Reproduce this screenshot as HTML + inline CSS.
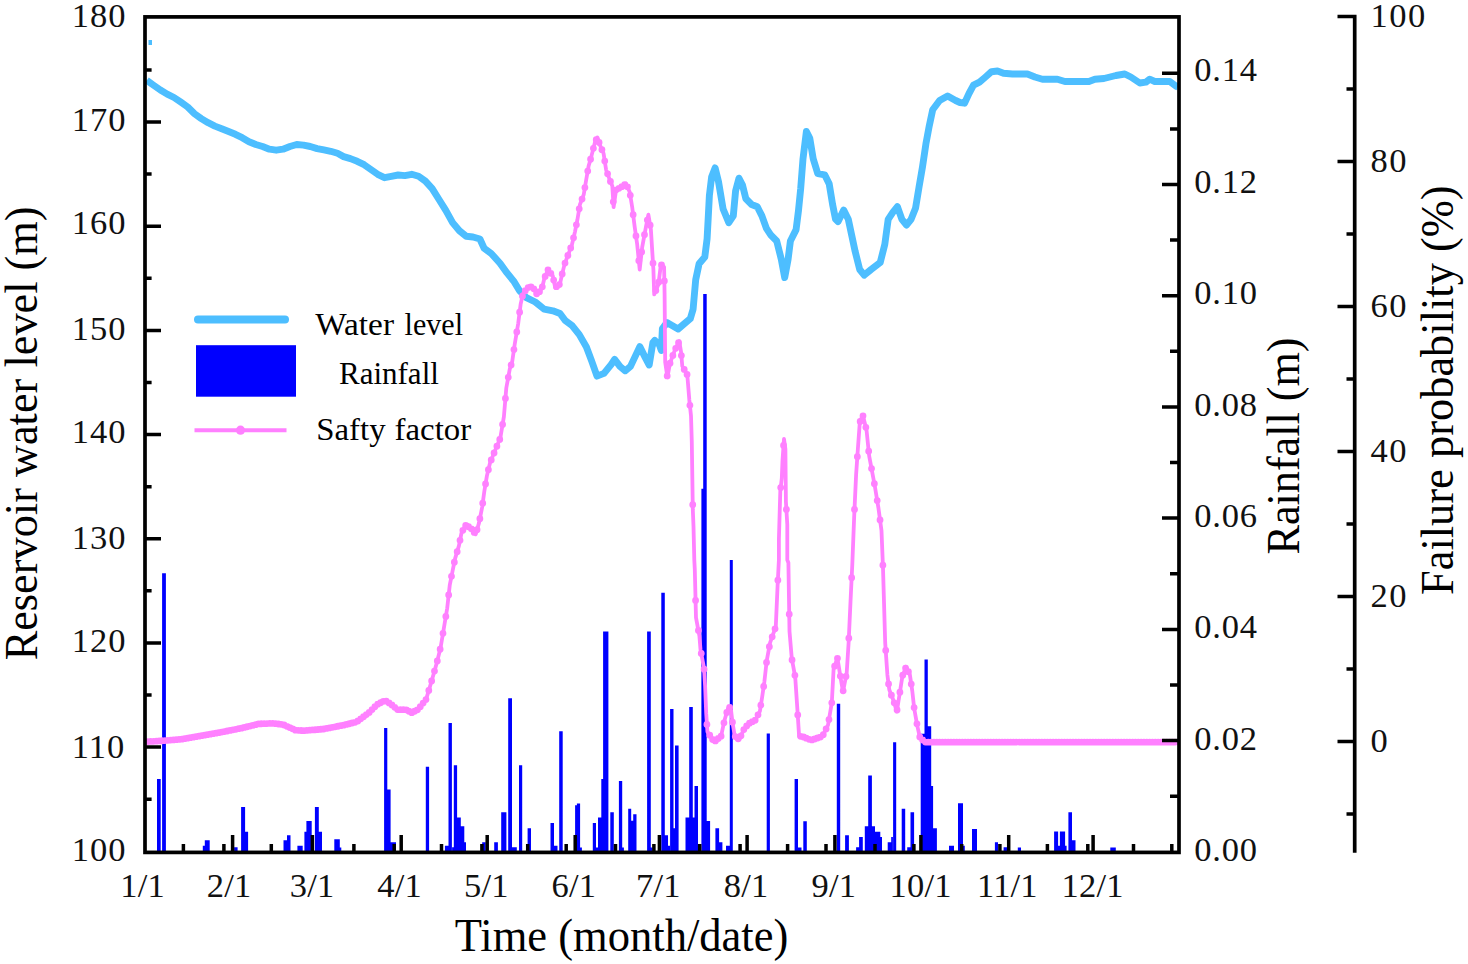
<!DOCTYPE html>
<html><head><meta charset="utf-8"><title>Chart</title>
<style>html,body{margin:0;padding:0;background:#fff;}svg{display:block;}</style></head>
<body><svg width="1468" height="964" viewBox="0 0 1468 964"><path d="M157.0 851.0H160.7V778.9H157.0ZM162.1 851.0H165.9V573.2H162.1ZM202.8 851.0H205.2V845.7H202.8ZM204.8 851.0H209.7V840.2H204.8ZM234.1 851.0H237.6V847.2H234.1ZM241.1 851.0H245.1V807.0H241.1ZM244.6 851.0H248.1V831.7H244.6ZM283.5 851.0H287.0V840.2H283.5ZM287.0 851.0H290.5V835.2H287.0ZM297.4 851.0H302.7V845.7H297.4ZM304.4 851.0H306.4V831.7H304.4ZM306.4 851.0H311.7V821.0H306.4ZM314.9 851.0H318.8V807.0H314.9ZM318.8 851.0H322.0V831.7H318.8ZM334.3 851.0H339.8V839.2H334.3ZM339.8 851.0H341.3V847.5H339.8ZM384.1 851.0H387.3V728.0H384.1ZM387.1 851.0H390.6V789.4H387.1ZM390.6 851.0H396.0V842.2H390.6ZM425.8 851.0H429.1V766.8H425.8ZM444.9 851.0H448.9V845.7H444.9ZM448.5 851.0H451.9V723.0H448.5ZM452.1 851.0H454.1V847.2H452.1ZM453.8 851.0H457.1V765.2H453.8ZM457.1 851.0H460.8V817.6H457.1ZM460.8 851.0H464.3V826.2H460.8ZM464.3 851.0H466.0V842.2H464.3ZM482.2 851.0H485.7V842.2H482.2ZM494.2 851.0H497.9V842.2H494.2ZM501.2 851.0H506.4V812.3H501.2ZM508.2 851.0H512.0V698.2H508.2ZM511.8 851.0H516.8V847.2H511.8ZM519.0 851.0H522.2V765.2H519.0ZM527.6 851.0H531.0V828.2H527.6ZM550.5 851.0H554.0V823.0H550.5ZM554.0 851.0H557.5V845.7H554.0ZM559.2 851.0H562.7V731.3H559.2ZM575.1 851.0H576.9V805.3H575.1ZM576.9 851.0H580.1V803.4H576.9ZM580.1 851.0H581.9V847.5H580.1ZM592.8 851.0H596.0V823.0H592.8ZM596.0 851.0H598.0V847.5H596.0ZM598.0 851.0H601.3V817.6H598.0ZM601.3 851.0H603.3V778.9H601.3ZM603.1 851.0H608.4V631.6H603.1ZM610.3 851.0H613.8V812.3H610.3ZM618.9 851.0H622.2V780.9H618.9ZM622.2 851.0H623.9V847.5H622.2ZM628.2 851.0H631.2V808.8H628.2ZM631.2 851.0H633.2V820.8H631.2ZM633.2 851.0H636.5V814.3H633.2ZM647.1 851.0H650.8V631.6H647.1ZM650.6 851.0H652.6V847.5H650.6ZM661.3 851.0H664.8V592.8H661.3ZM664.5 851.0H668.0V835.2H664.5ZM668.0 851.0H670.0V845.7H668.0ZM670.1 851.0H673.5V709.1H670.1ZM673.5 851.0H675.0V828.2H673.5ZM675.0 851.0H678.6V745.5H675.0ZM685.5 851.0H689.5V817.6H685.5ZM689.2 851.0H692.8V707.1H689.2ZM692.8 851.0H694.5V817.6H692.8ZM694.5 851.0H698.0V786.1H694.5ZM701.4 851.0H704.9V488.7H701.4ZM703.2 851.0H706.7V293.9H703.2ZM706.7 851.0H710.1V821.0H706.7ZM715.4 851.0H719.1V828.2H715.4ZM719.1 851.0H722.4V842.2H719.1ZM726.0 851.0H729.8V845.7H726.0ZM729.8 851.0H732.8V560.1H729.8ZM766.7 851.0H769.9V733.5H766.7ZM794.6 851.0H798.0V779.1H794.6ZM798.0 851.0H801.5V847.5H798.0ZM803.3 851.0H806.8V821.3H803.3ZM836.8 851.0H840.2V703.7H836.8ZM845.1 851.0H848.9V835.2H845.1ZM856.1 851.0H859.1V847.2H856.1ZM859.1 851.0H862.8V836.9H859.1ZM864.8 851.0H868.3V826.2H864.8ZM868.2 851.0H871.9V775.4H868.2ZM871.8 851.0H875.0V826.2H871.8ZM875.0 851.0H880.3V831.7H875.0ZM880.3 851.0H882.0V836.9H880.3ZM887.7 851.0H891.2V842.2H887.7ZM891.2 851.0H892.9V836.9H891.2ZM893.1 851.0H896.2V742.2H893.1ZM901.7 851.0H905.2V808.8H901.7ZM907.2 851.0H910.5V847.2H907.2ZM910.5 851.0H914.1V812.3H910.5ZM920.7 851.0H924.5V733.7H920.7ZM924.5 851.0H927.8V659.6H924.5ZM927.8 851.0H931.2V726.2H927.8ZM931.2 851.0H933.1V786.0H931.2ZM933.1 851.0H936.9V828.2H933.1ZM949.0 851.0H954.0V845.7H949.0ZM958.0 851.0H963.0V803.3H958.0ZM963.0 851.0H964.8V845.7H963.0ZM972.0 851.0H977.0V829.0H972.0ZM994.9 851.0H998.0V842.2H994.9ZM1003.6 851.0H1007.0V847.2H1003.6ZM1017.8 851.0H1021.0V847.6H1017.8ZM1054.1 851.0H1058.1V831.5H1054.1ZM1058.1 851.0H1059.9V845.7H1058.1ZM1059.9 851.0H1065.1V831.5H1059.9ZM1065.1 851.0H1066.6V845.7H1065.1ZM1068.4 851.0H1072.0V812.3H1068.4ZM1072.0 851.0H1075.5V840.2H1072.0ZM1110.3 851.0H1115.8V847.5H1110.3Z" fill="#0000ff"/><polyline points="146.8,80.4 153.6,85.2 160.4,90.0 167.2,94.1 174.0,97.5 180.9,102.2 187.7,107.0 194.5,113.8 201.3,118.6 208.1,122.7 214.9,126.1 221.7,128.8 228.6,131.5 235.4,134.3 242.2,137.7 249.0,141.7 255.8,144.5 262.6,146.5 269.4,149.2 276.2,150.2 283.0,149.2 289.9,146.5 296.7,144.5 303.5,145.1 310.3,146.5 317.1,148.6 323.9,149.9 330.7,151.3 337.5,153.3 343.6,156.6 350.4,158.6 357.2,161.3 364.1,164.7 370.9,169.5 377.7,174.3 384.5,177.7 391.3,176.3 398.1,175.0 404.9,175.6 411.7,174.3 418.6,176.3 425.4,181.1 432.2,188.6 439.0,199.5 445.8,210.4 452.6,222.6 459.4,230.8 466.2,236.3 473.0,237.0 479.9,239.0 484.1,248.2 491.2,253.5 500.0,263.2 507.0,272.9 514.1,281.7 519.4,290.5 526.4,297.6 535.3,302.0 544.1,309.1 552.9,310.8 560.0,313.5 565.2,320.5 572.3,325.8 579.3,334.6 586.4,347.0 591.7,361.1 597.0,376.1 604.0,373.4 611.1,364.6 614.6,359.3 619.9,366.4 625.2,370.8 630.5,366.4 639.8,346.6 645.4,357.9 649.2,365.0 652.9,342.5 654.8,340.4 659.4,344.9 661.3,350.5 662.4,328.5 666.9,322.6 678.1,329.0 690.3,318.7 693.1,309.3 695.7,279.8 699.1,263.8 704.8,257.0 707.1,238.7 708.2,218.2 709.4,195.3 711.6,177.1 715.1,167.9 718.5,181.6 723.1,209.0 728.8,222.7 733.3,215.9 735.6,190.8 739.0,178.2 742.5,185.1 745.9,198.8 751.6,204.5 757.3,206.8 761.9,215.9 766.4,228.4 771.0,235.3 776.7,241.0 781.3,259.3 784.7,277.5 788.1,259.3 790.4,241.0 796.1,229.6 798.4,211.3 800.7,188.5 803.0,158.8 806.4,131.4 809.8,138.3 813.2,158.8 817.8,173.7 824.7,174.8 829.2,183.9 832.6,204.5 835.5,219.0 838.0,221.6 843.7,210.1 848.3,219.3 851.7,235.3 855.1,251.2 859.7,269.5 864.2,275.2 871.1,269.5 880.2,262.6 884.8,244.4 888.2,219.3 892.8,212.4 897.4,206.7 901.9,219.3 906.5,225.0 911.1,219.3 915.6,207.9 919.0,187.3 922.5,166.8 925.9,143.9 929.3,125.7 932.7,109.7 939.6,100.5 947.6,96.0 955.6,100.5 960.0,102.5 964.5,103.2 969.0,93.5 973.5,85.2 979.5,82.2 985.5,77.0 991.5,71.7 997.5,71.0 1003.5,73.2 1012.5,74.0 1027.4,74.0 1034.9,77.0 1042.4,79.2 1057.4,79.2 1064.9,81.5 1088.9,81.5 1094.9,79.2 1103.9,78.5 1115.9,75.5 1124.8,74.0 1130.8,77.0 1139.8,83.0 1145.8,82.2 1149.6,79.2 1154.8,81.5 1169.8,81.5 1175.8,86.0 1178.0,87.0" fill="none" stroke="#4dbeff" stroke-width="6.9" stroke-linejoin="round" stroke-linecap="butt"/><rect x="148.5" y="40" width="3.5" height="5" fill="#4dbeff"/><polyline points="146.1,741.7 160.4,740.9 180.9,739.3 201.3,735.8 221.7,732.1 242.2,728.0 258.5,723.9 272.8,723.3 283.1,724.6 295.3,730.1 303.5,730.7 323.9,729.0 344.4,725.0 356.6,721.9 368.9,712.7 377.1,704.5 385.2,700.4 391.4,704.5 397.5,709.6 405.7,709.6 411.8,712.7 417.9,709.6 426.1,699.4 431.7,680.7 436.9,662.6 440.7,647.0 444.6,623.7 447.2,608.2 449.8,584.8 452.4,571.9 455.0,558.9 458.9,545.9 461.5,533.0 465.4,525.2 470.6,527.8 475.7,534.3 479.1,522.6 482.2,507.0 484.3,491.5 486.9,475.9 490.0,463.0 494.3,452.4 500.3,438.1 503.9,416.6 506.3,388.0 509.8,368.9 512.2,361.7 514.6,345.0 518.2,323.5 520.6,304.4 523.0,293.7 527.7,287.7 532.5,286.5 537.3,294.9 542.1,287.7 544.4,278.2 548.0,269.8 552.8,275.8 555.2,287.7 559.9,284.2 562.3,273.4 564.7,263.9 568.3,254.3 571.9,244.8 574.9,232.1 577.4,219.7 579.9,204.7 583.7,194.7 586.2,179.8 588.6,166.1 591.1,157.4 594.9,142.4 597.4,137.4 599.9,144.9 603.6,153.6 606.1,169.8 609.8,179.8 612.3,186.0 613.6,207.2 616.1,189.8 621.0,187.3 626.0,183.5 629.8,192.2 632.2,207.2 634.7,227.1 637.2,244.6 639.7,269.5 642.2,247.1 645.9,227.1 648.4,214.7 650.9,229.6 653.4,269.5 654.2,294.4 658.4,284.4 660.9,264.5 664.1,267.0 664.6,294.4 665.2,362.3 667.4,377.3 669.9,363.6 674.9,349.9 679.3,341.2 681.1,352.4 682.3,366.1 687.3,374.8 689.3,399.7 691.0,415.8 691.8,442.0 692.8,509.2 693.5,526.6 694.3,560.0 694.8,569.7 696.0,617.6 699.4,635.8 700.5,649.5 704.0,667.8 705.1,686.0 706.2,713.4 707.4,731.6 714.2,741.9 721.1,736.2 724.5,720.2 727.9,708.8 730.6,706.5 732.5,722.5 734.8,736.2 739.3,739.6 743.9,729.4 748.4,723.7 755.3,720.2 759.9,711.1 762.1,697.4 764.4,681.5 766.7,660.9 770.1,642.7 775.8,626.7 777.6,585.6 778.9,560.0 778.9,539.1 780.3,491.2 781.8,478.1 782.5,460.7 784.0,438.9 785.4,449.1 785.9,501.4 787.3,524.6 787.3,560.0 788.4,562.8 789.5,631.3 791.8,658.6 795.2,676.9 797.5,711.1 799.1,736.2 801.9,736.4 811.2,740.2 822.4,736.4 828.0,725.2 831.8,702.8 833.6,669.2 837.4,657.9 840.4,676.6 843.0,691.6 846.7,672.9 848.6,643.0 850.5,601.9 852.3,564.5 854.2,515.9 856.1,474.8 857.9,448.6 859.8,422.4 862.8,415.0 866.5,429.9 869.2,456.1 874.8,486.0 878.5,508.4 881.5,530.8 883.0,568.2 885.2,643.0 887.4,674.9 889.3,689.8 893.7,701.0 896.8,711.6 899.9,692.3 902.4,676.1 906.1,666.8 909.9,674.9 912.3,691.1 914.2,708.5 917.3,725.9 919.8,737.1 924.8,742.1 1178.0,742.1" fill="none" stroke="#ff80ff" stroke-width="3.8" stroke-linejoin="round"/><path d="M144.44 741.60a3.4 3.4 0 1 0 6.8 0a3.4 3.4 0 1 0 -6.8 0zM147.28 741.44a3.4 3.4 0 1 0 6.8 0a3.4 3.4 0 1 0 -6.8 0zM150.11 741.29a3.4 3.4 0 1 0 6.8 0a3.4 3.4 0 1 0 -6.8 0zM152.95 741.13a3.4 3.4 0 1 0 6.8 0a3.4 3.4 0 1 0 -6.8 0zM155.79 740.97a3.4 3.4 0 1 0 6.8 0a3.4 3.4 0 1 0 -6.8 0zM158.63 740.77a3.4 3.4 0 1 0 6.8 0a3.4 3.4 0 1 0 -6.8 0zM161.47 740.55a3.4 3.4 0 1 0 6.8 0a3.4 3.4 0 1 0 -6.8 0zM164.30 740.33a3.4 3.4 0 1 0 6.8 0a3.4 3.4 0 1 0 -6.8 0zM167.14 740.11a3.4 3.4 0 1 0 6.8 0a3.4 3.4 0 1 0 -6.8 0zM169.98 739.89a3.4 3.4 0 1 0 6.8 0a3.4 3.4 0 1 0 -6.8 0zM172.82 739.67a3.4 3.4 0 1 0 6.8 0a3.4 3.4 0 1 0 -6.8 0zM175.66 739.44a3.4 3.4 0 1 0 6.8 0a3.4 3.4 0 1 0 -6.8 0zM178.49 739.13a3.4 3.4 0 1 0 6.8 0a3.4 3.4 0 1 0 -6.8 0zM181.33 738.64a3.4 3.4 0 1 0 6.8 0a3.4 3.4 0 1 0 -6.8 0zM184.17 738.16a3.4 3.4 0 1 0 6.8 0a3.4 3.4 0 1 0 -6.8 0zM187.01 737.67a3.4 3.4 0 1 0 6.8 0a3.4 3.4 0 1 0 -6.8 0zM189.85 737.18a3.4 3.4 0 1 0 6.8 0a3.4 3.4 0 1 0 -6.8 0zM192.68 736.69a3.4 3.4 0 1 0 6.8 0a3.4 3.4 0 1 0 -6.8 0zM195.52 736.21a3.4 3.4 0 1 0 6.8 0a3.4 3.4 0 1 0 -6.8 0zM198.36 735.72a3.4 3.4 0 1 0 6.8 0a3.4 3.4 0 1 0 -6.8 0zM201.20 735.20a3.4 3.4 0 1 0 6.8 0a3.4 3.4 0 1 0 -6.8 0zM204.04 734.69a3.4 3.4 0 1 0 6.8 0a3.4 3.4 0 1 0 -6.8 0zM206.87 734.17a3.4 3.4 0 1 0 6.8 0a3.4 3.4 0 1 0 -6.8 0zM209.71 733.66a3.4 3.4 0 1 0 6.8 0a3.4 3.4 0 1 0 -6.8 0zM212.55 733.14a3.4 3.4 0 1 0 6.8 0a3.4 3.4 0 1 0 -6.8 0zM215.39 732.63a3.4 3.4 0 1 0 6.8 0a3.4 3.4 0 1 0 -6.8 0zM218.23 732.11a3.4 3.4 0 1 0 6.8 0a3.4 3.4 0 1 0 -6.8 0zM221.06 731.55a3.4 3.4 0 1 0 6.8 0a3.4 3.4 0 1 0 -6.8 0zM223.90 730.98a3.4 3.4 0 1 0 6.8 0a3.4 3.4 0 1 0 -6.8 0zM226.74 730.41a3.4 3.4 0 1 0 6.8 0a3.4 3.4 0 1 0 -6.8 0zM229.58 729.84a3.4 3.4 0 1 0 6.8 0a3.4 3.4 0 1 0 -6.8 0zM232.42 729.28a3.4 3.4 0 1 0 6.8 0a3.4 3.4 0 1 0 -6.8 0zM235.25 728.71a3.4 3.4 0 1 0 6.8 0a3.4 3.4 0 1 0 -6.8 0zM238.09 728.14a3.4 3.4 0 1 0 6.8 0a3.4 3.4 0 1 0 -6.8 0zM240.93 727.46a3.4 3.4 0 1 0 6.8 0a3.4 3.4 0 1 0 -6.8 0zM243.77 726.75a3.4 3.4 0 1 0 6.8 0a3.4 3.4 0 1 0 -6.8 0zM246.61 726.04a3.4 3.4 0 1 0 6.8 0a3.4 3.4 0 1 0 -6.8 0zM249.44 725.32a3.4 3.4 0 1 0 6.8 0a3.4 3.4 0 1 0 -6.8 0zM252.28 724.61a3.4 3.4 0 1 0 6.8 0a3.4 3.4 0 1 0 -6.8 0zM255.12 723.90a3.4 3.4 0 1 0 6.8 0a3.4 3.4 0 1 0 -6.8 0zM257.96 723.78a3.4 3.4 0 1 0 6.8 0a3.4 3.4 0 1 0 -6.8 0zM260.80 723.66a3.4 3.4 0 1 0 6.8 0a3.4 3.4 0 1 0 -6.8 0zM263.63 723.54a3.4 3.4 0 1 0 6.8 0a3.4 3.4 0 1 0 -6.8 0zM266.47 723.42a3.4 3.4 0 1 0 6.8 0a3.4 3.4 0 1 0 -6.8 0zM269.31 723.30a3.4 3.4 0 1 0 6.8 0a3.4 3.4 0 1 0 -6.8 0zM272.15 723.65a3.4 3.4 0 1 0 6.8 0a3.4 3.4 0 1 0 -6.8 0zM274.99 724.01a3.4 3.4 0 1 0 6.8 0a3.4 3.4 0 1 0 -6.8 0zM277.82 724.36a3.4 3.4 0 1 0 6.8 0a3.4 3.4 0 1 0 -6.8 0zM280.66 725.03a3.4 3.4 0 1 0 6.8 0a3.4 3.4 0 1 0 -6.8 0zM283.50 726.31a3.4 3.4 0 1 0 6.8 0a3.4 3.4 0 1 0 -6.8 0zM286.34 727.59a3.4 3.4 0 1 0 6.8 0a3.4 3.4 0 1 0 -6.8 0zM289.18 728.87a3.4 3.4 0 1 0 6.8 0a3.4 3.4 0 1 0 -6.8 0zM292.01 730.11a3.4 3.4 0 1 0 6.8 0a3.4 3.4 0 1 0 -6.8 0zM294.85 730.32a3.4 3.4 0 1 0 6.8 0a3.4 3.4 0 1 0 -6.8 0zM297.69 730.52a3.4 3.4 0 1 0 6.8 0a3.4 3.4 0 1 0 -6.8 0zM300.53 730.66a3.4 3.4 0 1 0 6.8 0a3.4 3.4 0 1 0 -6.8 0zM303.37 730.43a3.4 3.4 0 1 0 6.8 0a3.4 3.4 0 1 0 -6.8 0zM306.20 730.19a3.4 3.4 0 1 0 6.8 0a3.4 3.4 0 1 0 -6.8 0zM309.04 729.95a3.4 3.4 0 1 0 6.8 0a3.4 3.4 0 1 0 -6.8 0zM311.88 729.72a3.4 3.4 0 1 0 6.8 0a3.4 3.4 0 1 0 -6.8 0zM314.72 729.48a3.4 3.4 0 1 0 6.8 0a3.4 3.4 0 1 0 -6.8 0zM317.56 729.25a3.4 3.4 0 1 0 6.8 0a3.4 3.4 0 1 0 -6.8 0zM320.39 729.01a3.4 3.4 0 1 0 6.8 0a3.4 3.4 0 1 0 -6.8 0zM323.23 728.47a3.4 3.4 0 1 0 6.8 0a3.4 3.4 0 1 0 -6.8 0zM326.07 727.91a3.4 3.4 0 1 0 6.8 0a3.4 3.4 0 1 0 -6.8 0zM328.91 727.36a3.4 3.4 0 1 0 6.8 0a3.4 3.4 0 1 0 -6.8 0zM331.75 726.81a3.4 3.4 0 1 0 6.8 0a3.4 3.4 0 1 0 -6.8 0zM334.58 726.25a3.4 3.4 0 1 0 6.8 0a3.4 3.4 0 1 0 -6.8 0zM337.42 725.70a3.4 3.4 0 1 0 6.8 0a3.4 3.4 0 1 0 -6.8 0zM340.26 725.14a3.4 3.4 0 1 0 6.8 0a3.4 3.4 0 1 0 -6.8 0zM343.10 724.47a3.4 3.4 0 1 0 6.8 0a3.4 3.4 0 1 0 -6.8 0zM345.94 723.75a3.4 3.4 0 1 0 6.8 0a3.4 3.4 0 1 0 -6.8 0zM348.77 723.02a3.4 3.4 0 1 0 6.8 0a3.4 3.4 0 1 0 -6.8 0zM351.61 722.30a3.4 3.4 0 1 0 6.8 0a3.4 3.4 0 1 0 -6.8 0zM354.45 720.97a3.4 3.4 0 1 0 6.8 0a3.4 3.4 0 1 0 -6.8 0zM357.29 718.84a3.4 3.4 0 1 0 6.8 0a3.4 3.4 0 1 0 -6.8 0zM360.13 716.72a3.4 3.4 0 1 0 6.8 0a3.4 3.4 0 1 0 -6.8 0zM362.96 714.60a3.4 3.4 0 1 0 6.8 0a3.4 3.4 0 1 0 -6.8 0zM365.80 712.40a3.4 3.4 0 1 0 6.8 0a3.4 3.4 0 1 0 -6.8 0zM368.64 709.56a3.4 3.4 0 1 0 6.8 0a3.4 3.4 0 1 0 -6.8 0zM371.48 706.72a3.4 3.4 0 1 0 6.8 0a3.4 3.4 0 1 0 -6.8 0zM374.32 704.19a3.4 3.4 0 1 0 6.8 0a3.4 3.4 0 1 0 -6.8 0zM377.15 702.75a3.4 3.4 0 1 0 6.8 0a3.4 3.4 0 1 0 -6.8 0zM379.99 701.32a3.4 3.4 0 1 0 6.8 0a3.4 3.4 0 1 0 -6.8 0zM382.83 701.08a3.4 3.4 0 1 0 6.8 0a3.4 3.4 0 1 0 -6.8 0zM385.67 702.96a3.4 3.4 0 1 0 6.8 0a3.4 3.4 0 1 0 -6.8 0zM388.51 704.92a3.4 3.4 0 1 0 6.8 0a3.4 3.4 0 1 0 -6.8 0zM391.34 707.30a3.4 3.4 0 1 0 6.8 0a3.4 3.4 0 1 0 -6.8 0zM394.18 709.60a3.4 3.4 0 1 0 6.8 0a3.4 3.4 0 1 0 -6.8 0zM397.02 709.60a3.4 3.4 0 1 0 6.8 0a3.4 3.4 0 1 0 -6.8 0zM399.86 709.60a3.4 3.4 0 1 0 6.8 0a3.4 3.4 0 1 0 -6.8 0zM402.70 709.80a3.4 3.4 0 1 0 6.8 0a3.4 3.4 0 1 0 -6.8 0zM405.53 711.24a3.4 3.4 0 1 0 6.8 0a3.4 3.4 0 1 0 -6.8 0zM408.37 712.69a3.4 3.4 0 1 0 6.8 0a3.4 3.4 0 1 0 -6.8 0zM411.21 711.27a3.4 3.4 0 1 0 6.8 0a3.4 3.4 0 1 0 -6.8 0zM414.05 709.83a3.4 3.4 0 1 0 6.8 0a3.4 3.4 0 1 0 -6.8 0zM416.89 706.63a3.4 3.4 0 1 0 6.8 0a3.4 3.4 0 1 0 -6.8 0zM419.72 703.10a3.4 3.4 0 1 0 6.8 0a3.4 3.4 0 1 0 -6.8 0zM422.56 699.57a3.4 3.4 0 1 0 6.8 0a3.4 3.4 0 1 0 -6.8 0zM425.40 690.38a3.4 3.4 0 1 0 6.8 0a3.4 3.4 0 1 0 -6.8 0zM428.24 680.91a3.4 3.4 0 1 0 6.8 0a3.4 3.4 0 1 0 -6.8 0zM431.08 671.04a3.4 3.4 0 1 0 6.8 0a3.4 3.4 0 1 0 -6.8 0zM433.91 660.90a3.4 3.4 0 1 0 6.8 0a3.4 3.4 0 1 0 -6.8 0zM436.75 649.25a3.4 3.4 0 1 0 6.8 0a3.4 3.4 0 1 0 -6.8 0zM439.59 633.32a3.4 3.4 0 1 0 6.8 0a3.4 3.4 0 1 0 -6.8 0zM442.43 616.38a3.4 3.4 0 1 0 6.8 0a3.4 3.4 0 1 0 -6.8 0zM445.27 595.01a3.4 3.4 0 1 0 6.8 0a3.4 3.4 0 1 0 -6.8 0zM448.10 576.35a3.4 3.4 0 1 0 6.8 0a3.4 3.4 0 1 0 -6.8 0zM450.94 562.19a3.4 3.4 0 1 0 6.8 0a3.4 3.4 0 1 0 -6.8 0zM453.78 551.63a3.4 3.4 0 1 0 6.8 0a3.4 3.4 0 1 0 -6.8 0zM456.62 540.35a3.4 3.4 0 1 0 6.8 0a3.4 3.4 0 1 0 -6.8 0zM459.46 530.29a3.4 3.4 0 1 0 6.8 0a3.4 3.4 0 1 0 -6.8 0zM462.29 525.35a3.4 3.4 0 1 0 6.8 0a3.4 3.4 0 1 0 -6.8 0zM465.13 526.77a3.4 3.4 0 1 0 6.8 0a3.4 3.4 0 1 0 -6.8 0zM467.97 528.78a3.4 3.4 0 1 0 6.8 0a3.4 3.4 0 1 0 -6.8 0zM470.81 532.40a3.4 3.4 0 1 0 6.8 0a3.4 3.4 0 1 0 -6.8 0zM473.65 529.67a3.4 3.4 0 1 0 6.8 0a3.4 3.4 0 1 0 -6.8 0zM476.48 518.65a3.4 3.4 0 1 0 6.8 0a3.4 3.4 0 1 0 -6.8 0zM479.32 503.15a3.4 3.4 0 1 0 6.8 0a3.4 3.4 0 1 0 -6.8 0zM482.16 483.94a3.4 3.4 0 1 0 6.8 0a3.4 3.4 0 1 0 -6.8 0zM485.00 469.67a3.4 3.4 0 1 0 6.8 0a3.4 3.4 0 1 0 -6.8 0zM487.84 459.95a3.4 3.4 0 1 0 6.8 0a3.4 3.4 0 1 0 -6.8 0zM490.67 452.96a3.4 3.4 0 1 0 6.8 0a3.4 3.4 0 1 0 -6.8 0zM493.51 446.17a3.4 3.4 0 1 0 6.8 0a3.4 3.4 0 1 0 -6.8 0zM496.35 439.41a3.4 3.4 0 1 0 6.8 0a3.4 3.4 0 1 0 -6.8 0zM499.19 424.44a3.4 3.4 0 1 0 6.8 0a3.4 3.4 0 1 0 -6.8 0zM502.03 398.42a3.4 3.4 0 1 0 6.8 0a3.4 3.4 0 1 0 -6.8 0zM504.86 377.28a3.4 3.4 0 1 0 6.8 0a3.4 3.4 0 1 0 -6.8 0zM507.70 364.99a3.4 3.4 0 1 0 6.8 0a3.4 3.4 0 1 0 -6.8 0zM510.54 349.59a3.4 3.4 0 1 0 6.8 0a3.4 3.4 0 1 0 -6.8 0zM513.38 331.99a3.4 3.4 0 1 0 6.8 0a3.4 3.4 0 1 0 -6.8 0zM516.22 312.23a3.4 3.4 0 1 0 6.8 0a3.4 3.4 0 1 0 -6.8 0zM519.05 296.13a3.4 3.4 0 1 0 6.8 0a3.4 3.4 0 1 0 -6.8 0zM521.89 290.77a3.4 3.4 0 1 0 6.8 0a3.4 3.4 0 1 0 -6.8 0zM524.73 287.59a3.4 3.4 0 1 0 6.8 0a3.4 3.4 0 1 0 -6.8 0zM527.57 286.88a3.4 3.4 0 1 0 6.8 0a3.4 3.4 0 1 0 -6.8 0zM530.41 288.79a3.4 3.4 0 1 0 6.8 0a3.4 3.4 0 1 0 -6.8 0zM533.24 293.75a3.4 3.4 0 1 0 6.8 0a3.4 3.4 0 1 0 -6.8 0zM536.08 291.63a3.4 3.4 0 1 0 6.8 0a3.4 3.4 0 1 0 -6.8 0zM538.92 286.79a3.4 3.4 0 1 0 6.8 0a3.4 3.4 0 1 0 -6.8 0zM541.76 276.43a3.4 3.4 0 1 0 6.8 0a3.4 3.4 0 1 0 -6.8 0zM544.60 269.81a3.4 3.4 0 1 0 6.8 0a3.4 3.4 0 1 0 -6.8 0zM547.43 273.34a3.4 3.4 0 1 0 6.8 0a3.4 3.4 0 1 0 -6.8 0zM550.27 280.12a3.4 3.4 0 1 0 6.8 0a3.4 3.4 0 1 0 -6.8 0zM553.11 286.72a3.4 3.4 0 1 0 6.8 0a3.4 3.4 0 1 0 -6.8 0zM555.95 284.61a3.4 3.4 0 1 0 6.8 0a3.4 3.4 0 1 0 -6.8 0zM558.79 273.91a3.4 3.4 0 1 0 6.8 0a3.4 3.4 0 1 0 -6.8 0zM561.62 263.04a3.4 3.4 0 1 0 6.8 0a3.4 3.4 0 1 0 -6.8 0zM564.46 255.47a3.4 3.4 0 1 0 6.8 0a3.4 3.4 0 1 0 -6.8 0zM567.30 247.97a3.4 3.4 0 1 0 6.8 0a3.4 3.4 0 1 0 -6.8 0zM570.14 237.87a3.4 3.4 0 1 0 6.8 0a3.4 3.4 0 1 0 -6.8 0zM572.98 224.78a3.4 3.4 0 1 0 6.8 0a3.4 3.4 0 1 0 -6.8 0zM575.81 208.82a3.4 3.4 0 1 0 6.8 0a3.4 3.4 0 1 0 -6.8 0zM578.65 199.04a3.4 3.4 0 1 0 6.8 0a3.4 3.4 0 1 0 -6.8 0zM581.49 187.61a3.4 3.4 0 1 0 6.8 0a3.4 3.4 0 1 0 -6.8 0zM584.33 171.08a3.4 3.4 0 1 0 6.8 0a3.4 3.4 0 1 0 -6.8 0zM587.17 159.26a3.4 3.4 0 1 0 6.8 0a3.4 3.4 0 1 0 -6.8 0zM590.00 148.31a3.4 3.4 0 1 0 6.8 0a3.4 3.4 0 1 0 -6.8 0zM592.84 139.72a3.4 3.4 0 1 0 6.8 0a3.4 3.4 0 1 0 -6.8 0zM595.68 142.44a3.4 3.4 0 1 0 6.8 0a3.4 3.4 0 1 0 -6.8 0zM598.52 149.65a3.4 3.4 0 1 0 6.8 0a3.4 3.4 0 1 0 -6.8 0zM601.36 161.09a3.4 3.4 0 1 0 6.8 0a3.4 3.4 0 1 0 -6.8 0zM604.19 173.84a3.4 3.4 0 1 0 6.8 0a3.4 3.4 0 1 0 -6.8 0zM607.03 181.37a3.4 3.4 0 1 0 6.8 0a3.4 3.4 0 1 0 -6.8 0zM609.87 201.82a3.4 3.4 0 1 0 6.8 0a3.4 3.4 0 1 0 -6.8 0zM612.71 189.80a3.4 3.4 0 1 0 6.8 0a3.4 3.4 0 1 0 -6.8 0zM615.55 188.35a3.4 3.4 0 1 0 6.8 0a3.4 3.4 0 1 0 -6.8 0zM618.38 186.70a3.4 3.4 0 1 0 6.8 0a3.4 3.4 0 1 0 -6.8 0zM621.22 184.55a3.4 3.4 0 1 0 6.8 0a3.4 3.4 0 1 0 -6.8 0zM624.06 186.84a3.4 3.4 0 1 0 6.8 0a3.4 3.4 0 1 0 -6.8 0zM626.90 195.31a3.4 3.4 0 1 0 6.8 0a3.4 3.4 0 1 0 -6.8 0zM629.74 214.65a3.4 3.4 0 1 0 6.8 0a3.4 3.4 0 1 0 -6.8 0zM632.57 236.02a3.4 3.4 0 1 0 6.8 0a3.4 3.4 0 1 0 -6.8 0zM635.41 260.66a3.4 3.4 0 1 0 6.8 0a3.4 3.4 0 1 0 -6.8 0zM638.25 252.03a3.4 3.4 0 1 0 6.8 0a3.4 3.4 0 1 0 -6.8 0zM641.09 234.73a3.4 3.4 0 1 0 6.8 0a3.4 3.4 0 1 0 -6.8 0zM643.93 220.03a3.4 3.4 0 1 0 6.8 0a3.4 3.4 0 1 0 -6.8 0zM646.76 225.21a3.4 3.4 0 1 0 6.8 0a3.4 3.4 0 1 0 -6.8 0zM649.60 263.15a3.4 3.4 0 1 0 6.8 0a3.4 3.4 0 1 0 -6.8 0zM652.44 290.50a3.4 3.4 0 1 0 6.8 0a3.4 3.4 0 1 0 -6.8 0zM655.28 282.19a3.4 3.4 0 1 0 6.8 0a3.4 3.4 0 1 0 -6.8 0zM658.12 264.98a3.4 3.4 0 1 0 6.8 0a3.4 3.4 0 1 0 -6.8 0zM660.95 280.92a3.4 3.4 0 1 0 6.8 0a3.4 3.4 0 1 0 -6.8 0zM663.79 375.88a3.4 3.4 0 1 0 6.8 0a3.4 3.4 0 1 0 -6.8 0zM666.63 363.24a3.4 3.4 0 1 0 6.8 0a3.4 3.4 0 1 0 -6.8 0zM669.47 355.47a3.4 3.4 0 1 0 6.8 0a3.4 3.4 0 1 0 -6.8 0zM672.31 348.31a3.4 3.4 0 1 0 6.8 0a3.4 3.4 0 1 0 -6.8 0zM675.14 342.69a3.4 3.4 0 1 0 6.8 0a3.4 3.4 0 1 0 -6.8 0zM677.98 355.62a3.4 3.4 0 1 0 6.8 0a3.4 3.4 0 1 0 -6.8 0zM680.82 369.44a3.4 3.4 0 1 0 6.8 0a3.4 3.4 0 1 0 -6.8 0zM683.66 374.38a3.4 3.4 0 1 0 6.8 0a3.4 3.4 0 1 0 -6.8 0zM686.50 405.34a3.4 3.4 0 1 0 6.8 0a3.4 3.4 0 1 0 -6.8 0zM689.33 504.76a3.4 3.4 0 1 0 6.8 0a3.4 3.4 0 1 0 -6.8 0zM692.17 600.52a3.4 3.4 0 1 0 6.8 0a3.4 3.4 0 1 0 -6.8 0zM695.01 630.50a3.4 3.4 0 1 0 6.8 0a3.4 3.4 0 1 0 -6.8 0zM697.85 653.41a3.4 3.4 0 1 0 6.8 0a3.4 3.4 0 1 0 -6.8 0zM700.69 669.22a3.4 3.4 0 1 0 6.8 0a3.4 3.4 0 1 0 -6.8 0zM703.52 724.38a3.4 3.4 0 1 0 6.8 0a3.4 3.4 0 1 0 -6.8 0zM706.36 735.18a3.4 3.4 0 1 0 6.8 0a3.4 3.4 0 1 0 -6.8 0zM709.20 739.48a3.4 3.4 0 1 0 6.8 0a3.4 3.4 0 1 0 -6.8 0zM712.04 740.88a3.4 3.4 0 1 0 6.8 0a3.4 3.4 0 1 0 -6.8 0zM714.88 738.53a3.4 3.4 0 1 0 6.8 0a3.4 3.4 0 1 0 -6.8 0zM717.71 736.13a3.4 3.4 0 1 0 6.8 0a3.4 3.4 0 1 0 -6.8 0zM720.55 722.78a3.4 3.4 0 1 0 6.8 0a3.4 3.4 0 1 0 -6.8 0zM723.39 712.52a3.4 3.4 0 1 0 6.8 0a3.4 3.4 0 1 0 -6.8 0zM726.23 707.33a3.4 3.4 0 1 0 6.8 0a3.4 3.4 0 1 0 -6.8 0zM729.07 722.21a3.4 3.4 0 1 0 6.8 0a3.4 3.4 0 1 0 -6.8 0zM731.90 736.58a3.4 3.4 0 1 0 6.8 0a3.4 3.4 0 1 0 -6.8 0zM734.74 738.73a3.4 3.4 0 1 0 6.8 0a3.4 3.4 0 1 0 -6.8 0zM737.58 735.87a3.4 3.4 0 1 0 6.8 0a3.4 3.4 0 1 0 -6.8 0zM740.42 729.58a3.4 3.4 0 1 0 6.8 0a3.4 3.4 0 1 0 -6.8 0zM743.26 725.91a3.4 3.4 0 1 0 6.8 0a3.4 3.4 0 1 0 -6.8 0zM746.09 723.15a3.4 3.4 0 1 0 6.8 0a3.4 3.4 0 1 0 -6.8 0zM748.93 721.71a3.4 3.4 0 1 0 6.8 0a3.4 3.4 0 1 0 -6.8 0zM751.77 720.27a3.4 3.4 0 1 0 6.8 0a3.4 3.4 0 1 0 -6.8 0zM754.61 714.84a3.4 3.4 0 1 0 6.8 0a3.4 3.4 0 1 0 -6.8 0zM757.45 705.21a3.4 3.4 0 1 0 6.8 0a3.4 3.4 0 1 0 -6.8 0zM760.28 686.45a3.4 3.4 0 1 0 6.8 0a3.4 3.4 0 1 0 -6.8 0zM763.12 662.49a3.4 3.4 0 1 0 6.8 0a3.4 3.4 0 1 0 -6.8 0zM765.96 646.66a3.4 3.4 0 1 0 6.8 0a3.4 3.4 0 1 0 -6.8 0zM768.80 636.81a3.4 3.4 0 1 0 6.8 0a3.4 3.4 0 1 0 -6.8 0zM771.64 628.84a3.4 3.4 0 1 0 6.8 0a3.4 3.4 0 1 0 -6.8 0zM774.47 580.20a3.4 3.4 0 1 0 6.8 0a3.4 3.4 0 1 0 -6.8 0zM777.31 487.60a3.4 3.4 0 1 0 6.8 0a3.4 3.4 0 1 0 -6.8 0zM780.15 445.44a3.4 3.4 0 1 0 6.8 0a3.4 3.4 0 1 0 -6.8 0zM782.99 509.49a3.4 3.4 0 1 0 6.8 0a3.4 3.4 0 1 0 -6.8 0zM785.83 614.24a3.4 3.4 0 1 0 6.8 0a3.4 3.4 0 1 0 -6.8 0zM788.66 660.02a3.4 3.4 0 1 0 6.8 0a3.4 3.4 0 1 0 -6.8 0zM791.50 675.30a3.4 3.4 0 1 0 6.8 0a3.4 3.4 0 1 0 -6.8 0zM794.34 714.87a3.4 3.4 0 1 0 6.8 0a3.4 3.4 0 1 0 -6.8 0zM797.18 736.31a3.4 3.4 0 1 0 6.8 0a3.4 3.4 0 1 0 -6.8 0zM800.02 737.02a3.4 3.4 0 1 0 6.8 0a3.4 3.4 0 1 0 -6.8 0zM802.85 738.18a3.4 3.4 0 1 0 6.8 0a3.4 3.4 0 1 0 -6.8 0zM805.69 739.34a3.4 3.4 0 1 0 6.8 0a3.4 3.4 0 1 0 -6.8 0zM808.53 739.95a3.4 3.4 0 1 0 6.8 0a3.4 3.4 0 1 0 -6.8 0zM811.37 738.99a3.4 3.4 0 1 0 6.8 0a3.4 3.4 0 1 0 -6.8 0zM814.21 738.03a3.4 3.4 0 1 0 6.8 0a3.4 3.4 0 1 0 -6.8 0zM817.04 737.06a3.4 3.4 0 1 0 6.8 0a3.4 3.4 0 1 0 -6.8 0zM819.88 734.64a3.4 3.4 0 1 0 6.8 0a3.4 3.4 0 1 0 -6.8 0zM822.72 728.96a3.4 3.4 0 1 0 6.8 0a3.4 3.4 0 1 0 -6.8 0zM825.56 719.55a3.4 3.4 0 1 0 6.8 0a3.4 3.4 0 1 0 -6.8 0zM828.40 702.82a3.4 3.4 0 1 0 6.8 0a3.4 3.4 0 1 0 -6.8 0zM831.23 666.13a3.4 3.4 0 1 0 6.8 0a3.4 3.4 0 1 0 -6.8 0zM834.07 658.35a3.4 3.4 0 1 0 6.8 0a3.4 3.4 0 1 0 -6.8 0zM836.91 676.04a3.4 3.4 0 1 0 6.8 0a3.4 3.4 0 1 0 -6.8 0zM839.75 690.85a3.4 3.4 0 1 0 6.8 0a3.4 3.4 0 1 0 -6.8 0zM842.59 676.51a3.4 3.4 0 1 0 6.8 0a3.4 3.4 0 1 0 -6.8 0zM845.42 638.15a3.4 3.4 0 1 0 6.8 0a3.4 3.4 0 1 0 -6.8 0zM848.26 577.76a3.4 3.4 0 1 0 6.8 0a3.4 3.4 0 1 0 -6.8 0zM851.10 509.41a3.4 3.4 0 1 0 6.8 0a3.4 3.4 0 1 0 -6.8 0zM853.94 456.78a3.4 3.4 0 1 0 6.8 0a3.4 3.4 0 1 0 -6.8 0zM856.78 421.47a3.4 3.4 0 1 0 6.8 0a3.4 3.4 0 1 0 -6.8 0zM859.61 415.86a3.4 3.4 0 1 0 6.8 0a3.4 3.4 0 1 0 -6.8 0zM862.45 427.29a3.4 3.4 0 1 0 6.8 0a3.4 3.4 0 1 0 -6.8 0zM865.29 451.15a3.4 3.4 0 1 0 6.8 0a3.4 3.4 0 1 0 -6.8 0zM868.13 468.53a3.4 3.4 0 1 0 6.8 0a3.4 3.4 0 1 0 -6.8 0zM870.97 483.68a3.4 3.4 0 1 0 6.8 0a3.4 3.4 0 1 0 -6.8 0zM873.80 500.55a3.4 3.4 0 1 0 6.8 0a3.4 3.4 0 1 0 -6.8 0zM876.64 519.91a3.4 3.4 0 1 0 6.8 0a3.4 3.4 0 1 0 -6.8 0zM879.48 565.21a3.4 3.4 0 1 0 6.8 0a3.4 3.4 0 1 0 -6.8 0zM882.32 650.51a3.4 3.4 0 1 0 6.8 0a3.4 3.4 0 1 0 -6.8 0zM885.16 683.97a3.4 3.4 0 1 0 6.8 0a3.4 3.4 0 1 0 -6.8 0zM887.99 695.13a3.4 3.4 0 1 0 6.8 0a3.4 3.4 0 1 0 -6.8 0zM890.83 702.82a3.4 3.4 0 1 0 6.8 0a3.4 3.4 0 1 0 -6.8 0zM893.67 709.92a3.4 3.4 0 1 0 6.8 0a3.4 3.4 0 1 0 -6.8 0zM896.51 692.25a3.4 3.4 0 1 0 6.8 0a3.4 3.4 0 1 0 -6.8 0zM899.35 675.23a3.4 3.4 0 1 0 6.8 0a3.4 3.4 0 1 0 -6.8 0zM902.18 668.10a3.4 3.4 0 1 0 6.8 0a3.4 3.4 0 1 0 -6.8 0zM905.02 671.75a3.4 3.4 0 1 0 6.8 0a3.4 3.4 0 1 0 -6.8 0zM907.86 684.08a3.4 3.4 0 1 0 6.8 0a3.4 3.4 0 1 0 -6.8 0zM910.70 707.57a3.4 3.4 0 1 0 6.8 0a3.4 3.4 0 1 0 -6.8 0zM913.54 723.86a3.4 3.4 0 1 0 6.8 0a3.4 3.4 0 1 0 -6.8 0zM916.37 736.98a3.4 3.4 0 1 0 6.8 0a3.4 3.4 0 1 0 -6.8 0zM919.21 739.91a3.4 3.4 0 1 0 6.8 0a3.4 3.4 0 1 0 -6.8 0zM922.05 742.10a3.4 3.4 0 1 0 6.8 0a3.4 3.4 0 1 0 -6.8 0zM924.89 742.10a3.4 3.4 0 1 0 6.8 0a3.4 3.4 0 1 0 -6.8 0zM927.73 742.10a3.4 3.4 0 1 0 6.8 0a3.4 3.4 0 1 0 -6.8 0zM930.56 742.10a3.4 3.4 0 1 0 6.8 0a3.4 3.4 0 1 0 -6.8 0zM933.40 742.10a3.4 3.4 0 1 0 6.8 0a3.4 3.4 0 1 0 -6.8 0zM936.24 742.10a3.4 3.4 0 1 0 6.8 0a3.4 3.4 0 1 0 -6.8 0zM939.08 742.10a3.4 3.4 0 1 0 6.8 0a3.4 3.4 0 1 0 -6.8 0zM941.92 742.10a3.4 3.4 0 1 0 6.8 0a3.4 3.4 0 1 0 -6.8 0zM944.75 742.10a3.4 3.4 0 1 0 6.8 0a3.4 3.4 0 1 0 -6.8 0zM947.59 742.10a3.4 3.4 0 1 0 6.8 0a3.4 3.4 0 1 0 -6.8 0zM950.43 742.10a3.4 3.4 0 1 0 6.8 0a3.4 3.4 0 1 0 -6.8 0zM953.27 742.10a3.4 3.4 0 1 0 6.8 0a3.4 3.4 0 1 0 -6.8 0zM956.11 742.10a3.4 3.4 0 1 0 6.8 0a3.4 3.4 0 1 0 -6.8 0zM958.94 742.10a3.4 3.4 0 1 0 6.8 0a3.4 3.4 0 1 0 -6.8 0zM961.78 742.10a3.4 3.4 0 1 0 6.8 0a3.4 3.4 0 1 0 -6.8 0zM964.62 742.10a3.4 3.4 0 1 0 6.8 0a3.4 3.4 0 1 0 -6.8 0zM967.46 742.10a3.4 3.4 0 1 0 6.8 0a3.4 3.4 0 1 0 -6.8 0zM970.30 742.10a3.4 3.4 0 1 0 6.8 0a3.4 3.4 0 1 0 -6.8 0zM973.13 742.10a3.4 3.4 0 1 0 6.8 0a3.4 3.4 0 1 0 -6.8 0zM975.97 742.10a3.4 3.4 0 1 0 6.8 0a3.4 3.4 0 1 0 -6.8 0zM978.81 742.10a3.4 3.4 0 1 0 6.8 0a3.4 3.4 0 1 0 -6.8 0zM981.65 742.10a3.4 3.4 0 1 0 6.8 0a3.4 3.4 0 1 0 -6.8 0zM984.49 742.10a3.4 3.4 0 1 0 6.8 0a3.4 3.4 0 1 0 -6.8 0zM987.32 742.10a3.4 3.4 0 1 0 6.8 0a3.4 3.4 0 1 0 -6.8 0zM990.16 742.10a3.4 3.4 0 1 0 6.8 0a3.4 3.4 0 1 0 -6.8 0zM993.00 742.10a3.4 3.4 0 1 0 6.8 0a3.4 3.4 0 1 0 -6.8 0zM995.84 742.10a3.4 3.4 0 1 0 6.8 0a3.4 3.4 0 1 0 -6.8 0zM998.68 742.10a3.4 3.4 0 1 0 6.8 0a3.4 3.4 0 1 0 -6.8 0zM1001.51 742.10a3.4 3.4 0 1 0 6.8 0a3.4 3.4 0 1 0 -6.8 0zM1004.35 742.10a3.4 3.4 0 1 0 6.8 0a3.4 3.4 0 1 0 -6.8 0zM1007.19 742.10a3.4 3.4 0 1 0 6.8 0a3.4 3.4 0 1 0 -6.8 0zM1010.03 742.10a3.4 3.4 0 1 0 6.8 0a3.4 3.4 0 1 0 -6.8 0zM1012.87 742.10a3.4 3.4 0 1 0 6.8 0a3.4 3.4 0 1 0 -6.8 0zM1015.70 742.10a3.4 3.4 0 1 0 6.8 0a3.4 3.4 0 1 0 -6.8 0zM1018.54 742.10a3.4 3.4 0 1 0 6.8 0a3.4 3.4 0 1 0 -6.8 0zM1021.38 742.10a3.4 3.4 0 1 0 6.8 0a3.4 3.4 0 1 0 -6.8 0zM1024.22 742.10a3.4 3.4 0 1 0 6.8 0a3.4 3.4 0 1 0 -6.8 0zM1027.06 742.10a3.4 3.4 0 1 0 6.8 0a3.4 3.4 0 1 0 -6.8 0zM1029.89 742.10a3.4 3.4 0 1 0 6.8 0a3.4 3.4 0 1 0 -6.8 0zM1032.73 742.10a3.4 3.4 0 1 0 6.8 0a3.4 3.4 0 1 0 -6.8 0zM1035.57 742.10a3.4 3.4 0 1 0 6.8 0a3.4 3.4 0 1 0 -6.8 0zM1038.41 742.10a3.4 3.4 0 1 0 6.8 0a3.4 3.4 0 1 0 -6.8 0zM1041.25 742.10a3.4 3.4 0 1 0 6.8 0a3.4 3.4 0 1 0 -6.8 0zM1044.08 742.10a3.4 3.4 0 1 0 6.8 0a3.4 3.4 0 1 0 -6.8 0zM1046.92 742.10a3.4 3.4 0 1 0 6.8 0a3.4 3.4 0 1 0 -6.8 0zM1049.76 742.10a3.4 3.4 0 1 0 6.8 0a3.4 3.4 0 1 0 -6.8 0zM1052.60 742.10a3.4 3.4 0 1 0 6.8 0a3.4 3.4 0 1 0 -6.8 0zM1055.44 742.10a3.4 3.4 0 1 0 6.8 0a3.4 3.4 0 1 0 -6.8 0zM1058.27 742.10a3.4 3.4 0 1 0 6.8 0a3.4 3.4 0 1 0 -6.8 0zM1061.11 742.10a3.4 3.4 0 1 0 6.8 0a3.4 3.4 0 1 0 -6.8 0zM1063.95 742.10a3.4 3.4 0 1 0 6.8 0a3.4 3.4 0 1 0 -6.8 0zM1066.79 742.10a3.4 3.4 0 1 0 6.8 0a3.4 3.4 0 1 0 -6.8 0zM1069.63 742.10a3.4 3.4 0 1 0 6.8 0a3.4 3.4 0 1 0 -6.8 0zM1072.46 742.10a3.4 3.4 0 1 0 6.8 0a3.4 3.4 0 1 0 -6.8 0zM1075.30 742.10a3.4 3.4 0 1 0 6.8 0a3.4 3.4 0 1 0 -6.8 0zM1078.14 742.10a3.4 3.4 0 1 0 6.8 0a3.4 3.4 0 1 0 -6.8 0zM1080.98 742.10a3.4 3.4 0 1 0 6.8 0a3.4 3.4 0 1 0 -6.8 0zM1083.82 742.10a3.4 3.4 0 1 0 6.8 0a3.4 3.4 0 1 0 -6.8 0zM1086.65 742.10a3.4 3.4 0 1 0 6.8 0a3.4 3.4 0 1 0 -6.8 0zM1089.49 742.10a3.4 3.4 0 1 0 6.8 0a3.4 3.4 0 1 0 -6.8 0zM1092.33 742.10a3.4 3.4 0 1 0 6.8 0a3.4 3.4 0 1 0 -6.8 0zM1095.17 742.10a3.4 3.4 0 1 0 6.8 0a3.4 3.4 0 1 0 -6.8 0zM1098.01 742.10a3.4 3.4 0 1 0 6.8 0a3.4 3.4 0 1 0 -6.8 0zM1100.84 742.10a3.4 3.4 0 1 0 6.8 0a3.4 3.4 0 1 0 -6.8 0zM1103.68 742.10a3.4 3.4 0 1 0 6.8 0a3.4 3.4 0 1 0 -6.8 0zM1106.52 742.10a3.4 3.4 0 1 0 6.8 0a3.4 3.4 0 1 0 -6.8 0zM1109.36 742.10a3.4 3.4 0 1 0 6.8 0a3.4 3.4 0 1 0 -6.8 0zM1112.20 742.10a3.4 3.4 0 1 0 6.8 0a3.4 3.4 0 1 0 -6.8 0zM1115.03 742.10a3.4 3.4 0 1 0 6.8 0a3.4 3.4 0 1 0 -6.8 0zM1117.87 742.10a3.4 3.4 0 1 0 6.8 0a3.4 3.4 0 1 0 -6.8 0zM1120.71 742.10a3.4 3.4 0 1 0 6.8 0a3.4 3.4 0 1 0 -6.8 0zM1123.55 742.10a3.4 3.4 0 1 0 6.8 0a3.4 3.4 0 1 0 -6.8 0zM1126.39 742.10a3.4 3.4 0 1 0 6.8 0a3.4 3.4 0 1 0 -6.8 0zM1129.22 742.10a3.4 3.4 0 1 0 6.8 0a3.4 3.4 0 1 0 -6.8 0zM1132.06 742.10a3.4 3.4 0 1 0 6.8 0a3.4 3.4 0 1 0 -6.8 0zM1134.90 742.10a3.4 3.4 0 1 0 6.8 0a3.4 3.4 0 1 0 -6.8 0zM1137.74 742.10a3.4 3.4 0 1 0 6.8 0a3.4 3.4 0 1 0 -6.8 0zM1140.58 742.10a3.4 3.4 0 1 0 6.8 0a3.4 3.4 0 1 0 -6.8 0zM1143.41 742.10a3.4 3.4 0 1 0 6.8 0a3.4 3.4 0 1 0 -6.8 0zM1146.25 742.10a3.4 3.4 0 1 0 6.8 0a3.4 3.4 0 1 0 -6.8 0zM1149.09 742.10a3.4 3.4 0 1 0 6.8 0a3.4 3.4 0 1 0 -6.8 0zM1151.93 742.10a3.4 3.4 0 1 0 6.8 0a3.4 3.4 0 1 0 -6.8 0zM1154.77 742.10a3.4 3.4 0 1 0 6.8 0a3.4 3.4 0 1 0 -6.8 0zM1157.60 742.10a3.4 3.4 0 1 0 6.8 0a3.4 3.4 0 1 0 -6.8 0zM1160.44 742.10a3.4 3.4 0 1 0 6.8 0a3.4 3.4 0 1 0 -6.8 0zM1163.28 742.10a3.4 3.4 0 1 0 6.8 0a3.4 3.4 0 1 0 -6.8 0zM1166.12 742.10a3.4 3.4 0 1 0 6.8 0a3.4 3.4 0 1 0 -6.8 0zM1168.96 742.10a3.4 3.4 0 1 0 6.8 0a3.4 3.4 0 1 0 -6.8 0zM1171.79 742.10a3.4 3.4 0 1 0 6.8 0a3.4 3.4 0 1 0 -6.8 0z" fill="#ff80ff"/><rect x="145.00" y="16.90" width="1034.00" height="835.50" fill="none" stroke="#000" stroke-width="3.7"/><path d="M145 799.2h6.6M145 747.1h16.0M145 695.0h6.6M145 642.9h16.0M145 590.8h6.6M145 538.8h16.0M145 486.7h6.6M145 434.6h16.0M145 382.5h6.6M145 330.4h16.0M145 278.3h6.6M145 226.2h16.0M145 174.1h6.6M145 122.0h16.0M145 70.0h6.6M1179 796.2h-9M1179 740.6h-17M1179 685.0h-9M1179 629.4h-17M1179 573.8h-9M1179 518.1h-17M1179 462.5h-9M1179 406.9h-17M1179 351.3h-9M1179 295.7h-17M1179 240.1h-9M1179 184.5h-17M1179 128.9h-9M1179 73.3h-17M232.6 852.4v-17.5M312.4 852.4v-17.5M401.2 852.4v-17.5M487.2 852.4v-17.5M575.2 852.4v-17.5M659.4 852.4v-17.5M747.1 852.4v-17.5M834.9 852.4v-17.5M920.9 852.4v-17.5M1008.7 852.4v-17.5M1093.1 852.4v-17.5M183.4 852.4v-8.5M223.9 852.4v-8.5M271.3 852.4v-8.5M353.9 852.4v-8.5M394.2 852.4v-8.5M441.5 852.4v-8.5M481.9 852.4v-8.5M527.7 852.4v-8.5M566.2 852.4v-8.5M615.5 852.4v-8.5M653.9 852.4v-8.5M699.7 852.4v-8.5M740.1 852.4v-8.5M787.6 852.4v-8.5M826.0 852.4v-8.5M875.0 852.4v-8.5M913.9 852.4v-8.5M961.7 852.4v-8.5M999.9 852.4v-8.5M1047.4 852.4v-8.5M1087.8 852.4v-8.5M1133.5 852.4v-8.5M1171.8 852.4v-8.5" stroke="#000" stroke-width="3.5" fill="none"/><path d="M1354.7 15.1V852.8M1356.5 814.0h-10M1356.5 741.5h-19M1356.5 669.0h-10M1356.5 596.5h-19M1356.5 524.0h-10M1356.5 451.5h-19M1356.5 379.0h-10M1356.5 306.5h-19M1356.5 234.0h-10M1356.5 161.5h-19M1356.5 89.0h-10M1356.5 16.5h-19" stroke="#000" stroke-width="3.7" fill="none"/><g font-family="&quot;Liberation Serif&quot;, serif" font-size="34.5" fill="#111"><text x="71.8" y="860.8" letter-spacing="1.0">100</text><text x="71.8" y="757.8" letter-spacing="1.0">110</text><text x="71.8" y="652.2" letter-spacing="1.0">120</text><text x="71.8" y="548.5" letter-spacing="1.0">130</text><text x="71.8" y="443.4" letter-spacing="1.0">140</text><text x="71.8" y="340.0" letter-spacing="1.0">150</text><text x="71.8" y="234.2" letter-spacing="1.0">160</text><text x="71.8" y="130.9" letter-spacing="1.0">170</text><text x="71.8" y="26.7" letter-spacing="1.0">180</text><text x="142.6" y="896.8" letter-spacing="0.2" text-anchor="middle">1/1</text><text x="229.1" y="896.8" letter-spacing="0.2" text-anchor="middle">2/1</text><text x="312.1" y="896.8" letter-spacing="0.2" text-anchor="middle">3/1</text><text x="399.6" y="896.8" letter-spacing="0.2" text-anchor="middle">4/1</text><text x="486.4" y="896.8" letter-spacing="0.2" text-anchor="middle">5/1</text><text x="573.8" y="896.8" letter-spacing="0.2" text-anchor="middle">6/1</text><text x="658.4" y="896.8" letter-spacing="0.2" text-anchor="middle">7/1</text><text x="746.1" y="896.8" letter-spacing="0.2" text-anchor="middle">8/1</text><text x="833.8" y="896.8" letter-spacing="0.2" text-anchor="middle">9/1</text><text x="920.6" y="896.8" letter-spacing="0.2" text-anchor="middle">10/1</text><text x="1007.4" y="896.8" letter-spacing="0.2" text-anchor="middle">11/1</text><text x="1092.6" y="896.8" letter-spacing="0.2" text-anchor="middle">12/1</text><text x="1194.2" y="861.2" letter-spacing="0.8">0.00</text><text x="1194.2" y="749.8" letter-spacing="0.8">0.02</text><text x="1194.2" y="638.4" letter-spacing="0.8">0.04</text><text x="1194.2" y="527.0" letter-spacing="0.8">0.06</text><text x="1194.2" y="415.6" letter-spacing="0.8">0.08</text><text x="1194.2" y="304.2" letter-spacing="0.8">0.10</text><text x="1194.2" y="192.7" letter-spacing="0.8">0.12</text><text x="1194.2" y="81.3" letter-spacing="0.8">0.14</text><text x="1370.4" y="752.1" letter-spacing="1.6">0</text><text x="1370.4" y="607.0" letter-spacing="1.6">20</text><text x="1370.4" y="461.9" letter-spacing="1.6">40</text><text x="1370.4" y="316.9" letter-spacing="1.6">60</text><text x="1370.4" y="171.8" letter-spacing="1.6">80</text><text x="1370.4" y="26.7" letter-spacing="1.6">100</text></g><text font-family="&quot;Liberation Serif&quot;, serif" font-size="46.4" transform="translate(621.5,951) scale(0.960,1)" text-anchor="middle" fill="#000">Time (month/date)</text><text font-family="&quot;Liberation Serif&quot;, serif" font-size="46.4" transform="translate(37.4,433.4) rotate(-90) scale(0.955,1)" text-anchor="middle" fill="#000">Reservoir water level (m)</text><text font-family="&quot;Liberation Serif&quot;, serif" font-size="46.4" transform="translate(1299,446) rotate(-90) scale(0.952,1)" text-anchor="middle" fill="#000">Rainfall (m)</text><text font-family="&quot;Liberation Serif&quot;, serif" font-size="46.4" transform="translate(1452.7,390.2) rotate(-90) scale(0.958,1)" text-anchor="middle" fill="#000">Failure probability (%)</text><line x1="198" y1="319.6" x2="285" y2="319.6" stroke="#4dbeff" stroke-width="8" stroke-linecap="round"/><rect x="196" y="345.2" width="100" height="51.5" fill="#0000ff"/><line x1="194.5" y1="430.2" x2="286.5" y2="430.2" stroke="#ff80ff" stroke-width="4"/><circle cx="240.5" cy="430.2" r="4.6" fill="#ff80ff"/><g font-family="&quot;Liberation Serif&quot;, serif" font-size="31" fill="#000"><text transform="translate(315.3,334.7) scale(1.075,1)">Water</text><text transform="translate(404.6,334.7) scale(0.970,1)">level</text><text transform="translate(339.0,383.7) scale(1.000,1)">Rainfall</text><text transform="translate(316.3,439.5) scale(1.059,1)">Safty</text><text transform="translate(394.6,439.5) scale(1.060,1)">factor</text></g></svg></body></html>
